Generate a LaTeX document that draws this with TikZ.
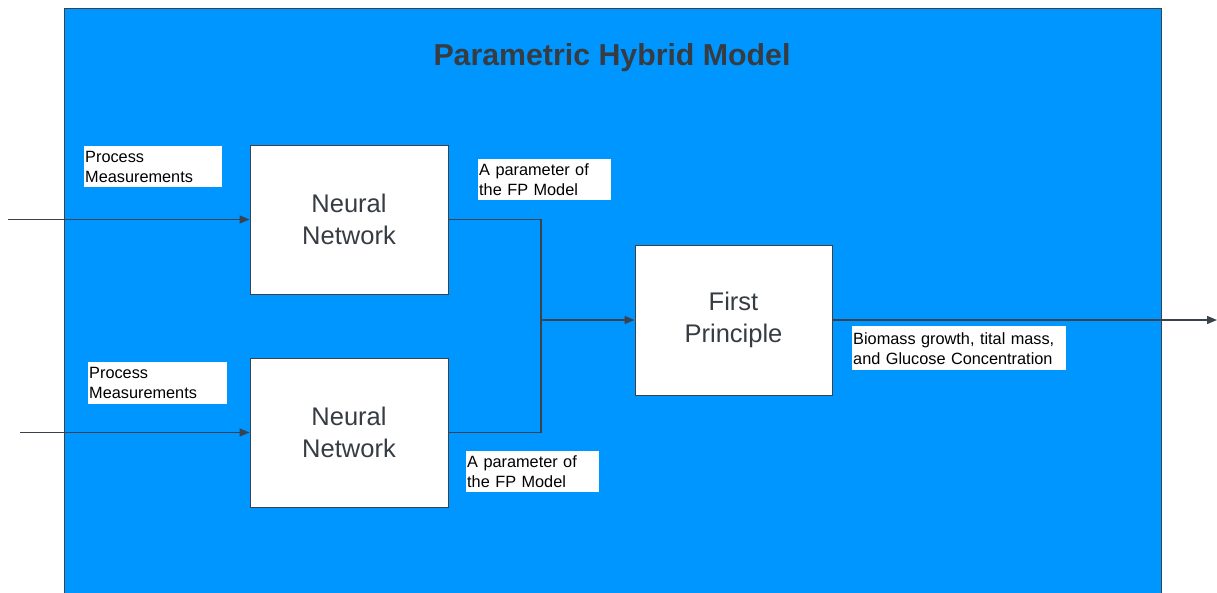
\documentclass[tikz,border=0pt]{standalone}
\usepackage{fontspec}
\setmainfont{Liberation Sans}
\usetikzlibrary{arrows.meta}
\definecolor{bgblue}{RGB}{0,150,255}
\definecolor{linegray}{RGB}{58,66,78}
\definecolor{txtgray}{RGB}{55,60,66}
\begin{document}
\begin{tikzpicture}[x=1pt,y=-1pt,
  block/.style={draw=linegray,line width=1pt,fill=white,minimum width=198pt,minimum height=149pt,
    align=center,inner sep=0pt,text=txtgray,font=\fontsize{25.5}{32}\selectfont},
  lab/.style={fill=white,anchor=north west,align=left,inner xsep=1pt,inner ysep=1pt,
    text=black,font=\fontsize{16.3}{20}\selectfont},
  conn/.style={draw=linegray,line width=1.4pt},
  arr/.style={conn,-{Triangle[length=10pt,width=8pt]}}]
\useasboundingbox (0,0) rectangle (1217,592);
\fill[white] (0,0) rectangle (1217,592);
\node[draw=linegray,line width=1pt,fill=bgblue,anchor=north west,minimum width=1097pt,minimum height=600pt,inner sep=0pt] (frame) at (64,8) {};
\node[text=txtgray,font=\bfseries\fontsize{30.3}{34}\selectfont] (title) at (612,58) {Parametric Hybrid Model};
\node[block] (nn1) at (349,219.5) {Neural\\Network};
\node[block] (nn2) at (349,432.5) {Neural\\Network};
\node[block,minimum width=197pt,minimum height=150pt] (fp) at (733.5,320) {First\\Principle};
\node[lab,text width=136pt,minimum height=41pt] (pm1) at (84,146) {Process\\Measurements};
\node[lab,text width=137pt,minimum height=42pt] (pm2) at (88,362) {Process\\Measurements};
\node[lab,text width=131pt,minimum height=41pt] (par1) at (478,159) {A parameter of\\the FP Model};
\node[lab,text width=131pt,minimum height=41pt] (par2) at (466,451) {A parameter of\\the FP Model};
\node[lab,text width=212pt,minimum height=44pt] (outl) at (852,326) {Biomass growth, tital mass,\\and Glucose Concentration};
\coordinate (in1) at (8,219.5);
\coordinate (in2) at (20,432.5);
\coordinate (j) at (541,320);
\coordinate (out) at (1217,320);
\draw[arr] (in1) -- (nn1.west);
\draw[arr] (in2) -- (nn2.west);
\draw[conn] (nn1.east) -| (j);
\draw[conn] (nn2.east) -| (j);
\draw[arr] (j) -- (fp.west);
\draw[arr] (fp.east) -- (out);
\end{tikzpicture}
\end{document}
